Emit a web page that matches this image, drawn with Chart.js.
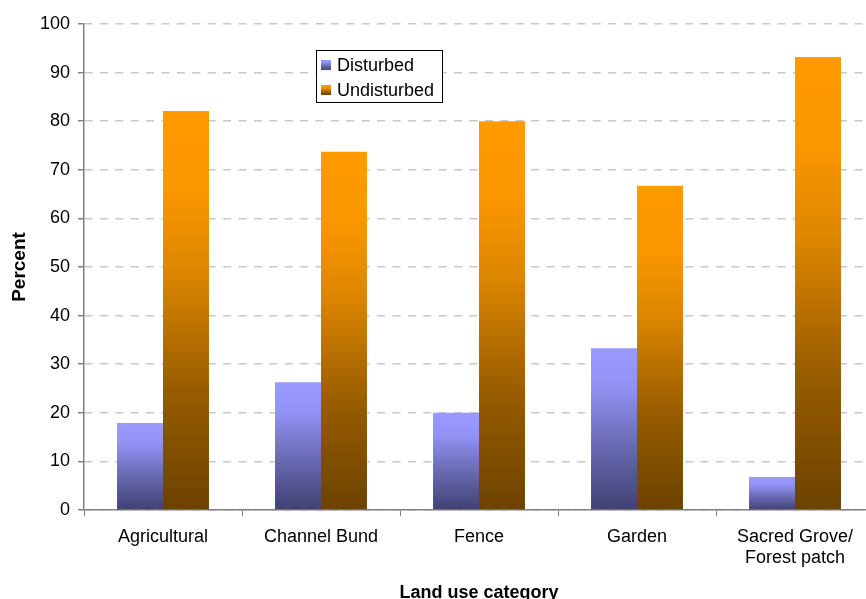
<!DOCTYPE html>
<html>
<head>
<meta charset="utf-8">
<script src="https://cdn.jsdelivr.net/npm/chart.js@4.4.1/dist/chart.umd.min.js"></script>
<style>
  html, body { margin: 0; padding: 0; overflow: hidden; background: #fff; }
  #wrap { width: 876px; height: 604px; position: relative; }
</style>
</head>
<body>
<div id="wrap"><canvas id="c" width="876" height="604"></canvas></div>
<script>
// Land use categories and the share of disturbed / undisturbed sites (percent)
const categories = ["Agricultural", "Channel Bund", "Fence", "Garden", ["Sacred Grove/", "Forest patch"]];
const disturbed = [17.9, 26.3, 20.0, 33.3, 6.8];
const undisturbed = [82.1, 73.7, 80.0, 66.7, 93.2];
const yTickValues = [0, 10, 20, 30, 40, 50, 60, 70, 80, 90, 100];
const seriesNames = ["Disturbed", "Undisturbed"];

const FONT = "'Liberation Sans', Arial, Helvetica, sans-serif";

// vertical colour ramps, light on top, dark at the base
const ramps = [
  [[0, '#9999ff'], [0.22, '#9393f6'], [0.6, '#6a6ab4'], [1, '#414174']],
  [[0, '#ff9a00'], [0.2, '#fa9600'], [0.4, '#dd8600'], [0.7, '#985c00'], [1, '#6c4200']]
];

function makeGradient(ctx, top, bottom, stops) {
  const g = ctx.createLinearGradient(0, top, 0, bottom);
  stops.forEach(s => g.addColorStop(s[0], s[1]));
  return g;
}

function barFill(idx) {
  return function (context) {
    const chart = context.chart;
    const y = chart.scales && chart.scales.y;
    if (!chart.chartArea || !y || context.raw === undefined) return ramps[idx][0][1];
    const top = y.getPixelForValue(context.raw);
    const base = y.getPixelForValue(0);
    if (!(base > top)) return ramps[idx][0][1];
    return makeGradient(chart.ctx, top, base, ramps[idx]);
  };
}

// boxed legend drawn inside the plot area
const boxedLegend = {
  id: 'boxedLegend',
  afterDraw(chart) {
    const ctx = chart.ctx;
    const x = 316, y = 50, w = 126, h = 52;
    ctx.save();
    ctx.fillStyle = '#ffffff';
    ctx.fillRect(x, y, w, h);
    ctx.strokeStyle = '#000000';
    ctx.lineWidth = 1;
    ctx.strokeRect(x + 0.5, y + 0.5, w, h);
    ctx.font = '18px ' + FONT;
    ctx.textBaseline = 'middle';
    chart.data.datasets.forEach((ds, i) => {
      const cy = y + 15 + i * 25;
      ctx.fillStyle = makeGradient(ctx, cy - 5, cy + 5, ramps[i]);
      ctx.fillRect(x + 5, cy - 5, 10, 10);
      ctx.fillStyle = '#000000';
      ctx.fillText(ds.label, x + 21, cy + 1);
    });
    ctx.restore();
  }
};

new Chart(document.getElementById('c'), {
  type: 'bar',
  data: {
    labels: categories,
    datasets: [
      { label: seriesNames[0], data: disturbed, backgroundColor: barFill(0) },
      { label: seriesNames[1], data: undisturbed, backgroundColor: barFill(1) }
    ]
  },
  options: {
    responsive: false,
    devicePixelRatio: 1,
    animation: false,
    layout: { padding: { left: 0, right: 2, top: 24, bottom: 0 } },
    datasets: { bar: { categoryPercentage: 0.582, barPercentage: 1.0 } },
    plugins: {
      legend: { display: false },
      tooltip: { enabled: false }
    },
    scales: {
      x: {
        offset: true,
        grid: {
          offset: true,
          drawOnChartArea: false,
          drawTicks: true,
          tickLength: 6,
          tickColor: '#808080',
          tickWidth: 1
        },
        border: { display: true, color: '#808080', width: 1.5 },
        ticks: {
          color: '#000000',
          font: { family: FONT, size: 18 },
          padding: 10,
          maxRotation: 0,
          autoSkip: false
        },
        title: {
          display: true,
          text: 'Land use category',
          color: '#000000',
          font: { family: FONT, size: 18, weight: 'bold' },
          padding: { top: 18, bottom: 0 }
        },
        afterFit(scale) { scale.height = 94; }
      },
      y: {
        min: 0,
        max: 100,
        afterBuildTicks(scale) { scale.ticks = yTickValues.map(v => ({ value: v })); },
        grid: {
          color: '#c8c8c8',
          lineWidth: 1.5,
          drawTicks: true,
          tickLength: 6,
          tickColor: '#808080',
          tickWidth: 1.5,
          tickBorderDash: []
        },
        border: { display: true, color: '#808080', width: 1.5, dash: [8, 7.4] },
        ticks: {
          color: '#000000',
          font: { family: FONT, size: 18 },
          padding: 8
        },
        title: {
          display: true,
          text: 'Percent',
          color: '#000000',
          font: { family: FONT, size: 19, weight: 'bold' },
          padding: { top: 8, bottom: 0 }
        },
        afterFit(scale) { scale.width = 84; }
      }
    }
  },
  plugins: [boxedLegend]
});
</script>
</body>
</html>
